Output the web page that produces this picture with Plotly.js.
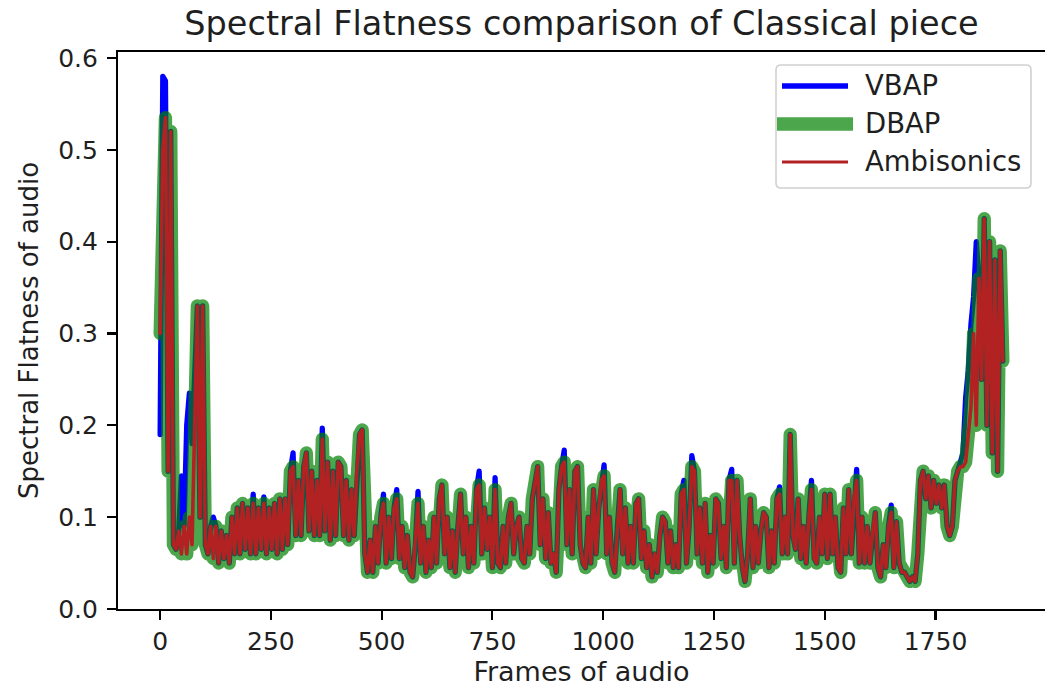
<!DOCTYPE html>
<html>
<head>
<meta charset="utf-8">
<script src="https://cdn.plot.ly/plotly-3.0.1.min.js"></script>
<style>
  html, body { margin: 0; padding: 0; background: #ffffff; }
  #chart { width: 1045px; height: 691px; }
  /* rounded joins and caps on the data lines */
  #chart .js-line { stroke-linejoin: round !important; stroke-linecap: round !important; }
</style>
</head>
<body>
<div id="chart"></div>
<script>
// Spectral flatness per analysis frame, one value every FRAME_STEP frames.
const FRAME_STEP = 6;

const vbap = [
  0.19, 0.58, 0.575, 0.15, 0.52, 0.07, 0.065, 0.085, 0.145, 0.09,
  0.20, 0.235, 0.18, 0.26, 0.33, 0.10, 0.33, 0.07, 0.06, 0.09,
  0.10, 0.09, 0.05, 0.085, 0.055, 0.08, 0.05, 0.10, 0.06, 0.11,
  0.06, 0.115, 0.065, 0.11, 0.06, 0.125, 0.06, 0.11, 0.065, 0.122,
  0.06, 0.11, 0.065, 0.115, 0.06, 0.12, 0.065, 0.12, 0.07, 0.15,
  0.17, 0.08, 0.14, 0.08, 0.155, 0.17, 0.085, 0.15, 0.08, 0.14,
  0.08, 0.197, 0.085, 0.16, 0.075, 0.15, 0.08, 0.16, 0.155, 0.08,
  0.14, 0.075, 0.13, 0.08, 0.15, 0.19, 0.195, 0.06, 0.04, 0.075,
  0.04, 0.09, 0.05, 0.10, 0.125, 0.05, 0.10, 0.055, 0.11, 0.13,
  0.055, 0.09, 0.045, 0.08, 0.04, 0.035, 0.07, 0.128, 0.05, 0.09,
  0.04, 0.075, 0.045, 0.10, 0.05, 0.12, 0.135, 0.06, 0.10, 0.045,
  0.085, 0.04, 0.09, 0.125, 0.06, 0.10, 0.045, 0.09, 0.05, 0.13,
  0.15, 0.06, 0.11, 0.065, 0.10, 0.045, 0.143, 0.05, 0.045, 0.09,
  0.05, 0.10, 0.115, 0.06, 0.09, 0.10, 0.055, 0.05, 0.09, 0.06,
  0.12, 0.14, 0.155, 0.07, 0.12, 0.055, 0.105, 0.05, 0.06, 0.04,
  0.13, 0.155, 0.173, 0.07, 0.13, 0.06, 0.15, 0.155, 0.07, 0.05,
  0.045, 0.10, 0.05, 0.13, 0.06, 0.11, 0.14, 0.157, 0.06, 0.10,
  0.05, 0.04, 0.09, 0.13, 0.06, 0.11, 0.05, 0.09, 0.05, 0.115,
  0.12, 0.055, 0.085, 0.045, 0.07, 0.035, 0.06, 0.04, 0.08, 0.10,
  0.095, 0.05, 0.085, 0.045, 0.07, 0.045, 0.125, 0.14, 0.05, 0.09,
  0.167, 0.15, 0.06, 0.11, 0.05, 0.115, 0.04, 0.08, 0.05, 0.12,
  0.115, 0.055, 0.09, 0.045, 0.14, 0.152, 0.05, 0.14, 0.08, 0.045,
  0.03, 0.06, 0.12, 0.045, 0.09, 0.05, 0.085, 0.105, 0.10, 0.045,
  0.085, 0.05, 0.12, 0.133, 0.06, 0.10, 0.06, 0.19, 0.08, 0.065,
  0.12, 0.055, 0.09, 0.05, 0.10, 0.14, 0.055, 0.05, 0.10, 0.06,
  0.125, 0.055, 0.125, 0.06, 0.10, 0.045, 0.04, 0.11, 0.06, 0.13,
  0.06, 0.12, 0.152, 0.05, 0.10, 0.05, 0.09, 0.05, 0.085, 0.105,
  0.045, 0.035, 0.07, 0.045, 0.09, 0.113, 0.045, 0.095, 0.05, 0.04,
  0.04, 0.035, 0.03, 0.035, 0.03, 0.06, 0.14, 0.15, 0.12, 0.145,
  0.11, 0.14, 0.115, 0.135, 0.11, 0.135, 0.09, 0.08, 0.09, 0.14,
  0.15, 0.155, 0.17, 0.23, 0.26, 0.31, 0.34, 0.40, 0.36, 0.25,
  0.425, 0.20, 0.40, 0.17, 0.38, 0.15, 0.39, 0.27
];

const dbap = [
  0.30, 0.50, 0.535, 0.15, 0.52, 0.07, 0.065, 0.085, 0.06, 0.09,
  0.06, 0.10, 0.07, 0.20, 0.33, 0.10, 0.33, 0.07, 0.06, 0.09,
  0.055, 0.09, 0.05, 0.085, 0.055, 0.08, 0.05, 0.10, 0.06, 0.11,
  0.06, 0.115, 0.065, 0.11, 0.06, 0.115, 0.06, 0.11, 0.065, 0.115,
  0.06, 0.11, 0.065, 0.115, 0.06, 0.12, 0.065, 0.12, 0.07, 0.15,
  0.155, 0.08, 0.14, 0.08, 0.155, 0.17, 0.085, 0.15, 0.08, 0.14,
  0.08, 0.185, 0.085, 0.16, 0.075, 0.15, 0.08, 0.16, 0.155, 0.08,
  0.14, 0.075, 0.13, 0.08, 0.15, 0.19, 0.195, 0.06, 0.04, 0.075,
  0.04, 0.09, 0.05, 0.10, 0.115, 0.05, 0.10, 0.055, 0.11, 0.12,
  0.055, 0.09, 0.045, 0.08, 0.04, 0.035, 0.07, 0.115, 0.05, 0.09,
  0.04, 0.075, 0.045, 0.10, 0.05, 0.12, 0.135, 0.06, 0.10, 0.045,
  0.085, 0.04, 0.09, 0.125, 0.06, 0.10, 0.045, 0.09, 0.05, 0.13,
  0.135, 0.06, 0.11, 0.065, 0.10, 0.045, 0.13, 0.05, 0.045, 0.09,
  0.05, 0.10, 0.115, 0.06, 0.09, 0.10, 0.055, 0.05, 0.09, 0.06,
  0.12, 0.14, 0.155, 0.07, 0.12, 0.055, 0.105, 0.05, 0.06, 0.04,
  0.13, 0.155, 0.16, 0.07, 0.13, 0.06, 0.15, 0.155, 0.07, 0.05,
  0.045, 0.10, 0.05, 0.13, 0.06, 0.11, 0.14, 0.145, 0.06, 0.10,
  0.05, 0.04, 0.09, 0.13, 0.06, 0.11, 0.05, 0.09, 0.05, 0.115,
  0.12, 0.055, 0.085, 0.045, 0.07, 0.035, 0.06, 0.04, 0.08, 0.10,
  0.095, 0.05, 0.085, 0.045, 0.07, 0.045, 0.125, 0.13, 0.05, 0.09,
  0.155, 0.15, 0.06, 0.11, 0.05, 0.115, 0.04, 0.08, 0.05, 0.12,
  0.115, 0.055, 0.09, 0.045, 0.14, 0.14, 0.05, 0.14, 0.08, 0.045,
  0.03, 0.06, 0.12, 0.045, 0.09, 0.05, 0.085, 0.105, 0.10, 0.045,
  0.085, 0.05, 0.12, 0.125, 0.06, 0.10, 0.06, 0.19, 0.08, 0.065,
  0.12, 0.055, 0.09, 0.05, 0.10, 0.13, 0.055, 0.05, 0.10, 0.06,
  0.125, 0.055, 0.125, 0.06, 0.10, 0.045, 0.04, 0.11, 0.06, 0.13,
  0.06, 0.12, 0.14, 0.05, 0.10, 0.05, 0.09, 0.05, 0.085, 0.105,
  0.045, 0.035, 0.07, 0.045, 0.09, 0.105, 0.045, 0.095, 0.05, 0.04,
  0.04, 0.035, 0.03, 0.035, 0.03, 0.06, 0.14, 0.15, 0.12, 0.145,
  0.11, 0.14, 0.115, 0.135, 0.11, 0.135, 0.09, 0.08, 0.09, 0.14,
  0.15, 0.155, 0.155, 0.16, 0.19, 0.22, 0.30, 0.20, 0.36, 0.25,
  0.425, 0.20, 0.40, 0.17, 0.38, 0.15, 0.39, 0.27
];

const ambisonics = [
  0.30, 0.50, 0.535, 0.15, 0.52, 0.07, 0.065, 0.085, 0.06, 0.09,
  0.06, 0.10, 0.07, 0.20, 0.33, 0.10, 0.33, 0.07, 0.06, 0.09,
  0.055, 0.09, 0.05, 0.085, 0.055, 0.08, 0.05, 0.10, 0.06, 0.11,
  0.06, 0.115, 0.065, 0.11, 0.06, 0.115, 0.06, 0.11, 0.065, 0.115,
  0.06, 0.11, 0.065, 0.115, 0.06, 0.12, 0.065, 0.12, 0.07, 0.15,
  0.155, 0.08, 0.14, 0.08, 0.155, 0.17, 0.085, 0.15, 0.08, 0.14,
  0.08, 0.185, 0.085, 0.16, 0.075, 0.15, 0.08, 0.16, 0.155, 0.08,
  0.14, 0.075, 0.13, 0.08, 0.15, 0.19, 0.195, 0.06, 0.04, 0.075,
  0.04, 0.09, 0.05, 0.10, 0.115, 0.05, 0.10, 0.055, 0.11, 0.12,
  0.055, 0.09, 0.045, 0.08, 0.04, 0.035, 0.07, 0.115, 0.05, 0.09,
  0.04, 0.075, 0.045, 0.10, 0.05, 0.12, 0.135, 0.06, 0.10, 0.045,
  0.085, 0.04, 0.09, 0.125, 0.06, 0.10, 0.045, 0.09, 0.05, 0.13,
  0.135, 0.06, 0.11, 0.065, 0.10, 0.045, 0.13, 0.05, 0.045, 0.09,
  0.05, 0.10, 0.115, 0.06, 0.09, 0.10, 0.055, 0.05, 0.09, 0.06,
  0.12, 0.14, 0.155, 0.07, 0.12, 0.055, 0.105, 0.05, 0.06, 0.04,
  0.13, 0.155, 0.16, 0.07, 0.13, 0.06, 0.15, 0.155, 0.07, 0.05,
  0.045, 0.10, 0.05, 0.13, 0.06, 0.11, 0.14, 0.145, 0.06, 0.10,
  0.05, 0.04, 0.09, 0.13, 0.06, 0.11, 0.05, 0.09, 0.05, 0.115,
  0.12, 0.055, 0.085, 0.045, 0.07, 0.035, 0.06, 0.04, 0.08, 0.10,
  0.095, 0.05, 0.085, 0.045, 0.07, 0.045, 0.125, 0.13, 0.05, 0.09,
  0.155, 0.15, 0.06, 0.11, 0.05, 0.115, 0.04, 0.08, 0.05, 0.12,
  0.115, 0.055, 0.09, 0.045, 0.14, 0.14, 0.05, 0.14, 0.08, 0.045,
  0.03, 0.06, 0.12, 0.045, 0.09, 0.05, 0.085, 0.105, 0.10, 0.045,
  0.085, 0.05, 0.12, 0.125, 0.06, 0.10, 0.06, 0.19, 0.08, 0.065,
  0.12, 0.055, 0.09, 0.05, 0.10, 0.13, 0.055, 0.05, 0.10, 0.06,
  0.125, 0.055, 0.125, 0.06, 0.10, 0.045, 0.04, 0.11, 0.06, 0.13,
  0.06, 0.12, 0.14, 0.05, 0.10, 0.05, 0.09, 0.05, 0.085, 0.105,
  0.045, 0.035, 0.07, 0.045, 0.09, 0.105, 0.045, 0.095, 0.05, 0.04,
  0.04, 0.035, 0.03, 0.035, 0.03, 0.06, 0.14, 0.15, 0.12, 0.145,
  0.11, 0.14, 0.115, 0.135, 0.11, 0.135, 0.09, 0.08, 0.09, 0.14,
  0.15, 0.155, 0.155, 0.16, 0.19, 0.22, 0.30, 0.20, 0.36, 0.25,
  0.425, 0.20, 0.40, 0.17, 0.38, 0.15, 0.39, 0.27
];

const xTicks = [0, 250, 500, 750, 1000, 1250, 1500, 1750];
const yTicks = [0.0, 0.1, 0.2, 0.3, 0.4, 0.5, 0.6];
const yTickLabels = ['0.0', '0.1', '0.2', '0.3', '0.4', '0.5', '0.6'];

const seriesNames = ['VBAP', 'DBAP', 'Ambisonics'];
const seriesColors = ['#0000ff', 'rgba(0,128,0,0.7)', '#b22222'];
const seriesWidths = [5.3, 13.3, 3.6];
const legendWidths = [5.3, 13.3, 3.0];

// frame index of each sample
const frames = dbap.map((_, i) => i * FRAME_STEP);

const FONT = 'DejaVu Sans, Liberation Sans, sans-serif';
const INK = '#1f1f1f';

const traces = [vbap, dbap, ambisonics].map((ys, k) => ({
  type: 'scatter',
  mode: 'lines',
  name: seriesNames[k],
  x: frames,
  y: ys,
  line: { color: seriesColors[k], width: seriesWidths[k], shape: 'linear' },
  showlegend: false,
  hoverinfo: 'skip'
}));

// Legend panel (upper right of the axes), positioned in paper units
const W = 1045, H = 691;
const M = { l: 118, r: 0, t: 52, b: 82 };
const PW = W - M.l - M.r, PH = H - M.t - M.b;
const px = v => (v - M.l) / PW;
const py = v => (H - M.b - v) / PH;

function roundedBox(x0, y0, x1, y1, r) {
  const rx = r / PW, ry = r / PH;
  const X0 = px(x0), X1 = px(x1), Y0 = py(y1), Y1 = py(y0);
  return `M${X0 + rx},${Y0} L${X1 - rx},${Y0} Q${X1},${Y0} ${X1},${Y0 + ry} ` +
         `L${X1},${Y1 - ry} Q${X1},${Y1} ${X1 - rx},${Y1} L${X0 + rx},${Y1} ` +
         `Q${X0},${Y1} ${X0},${Y1 - ry} L${X0},${Y0 + ry} Q${X0},${Y0} ${X0 + rx},${Y0} Z`;
}

const legendRows = [86, 124, 162];
const legendShapes = [{
  type: 'path', xref: 'paper', yref: 'paper', layer: 'above',
  path: roundedBox(776, 65, 1031, 188, 5),
  line: { color: '#d0d0d0', width: 1.6 },
  fillcolor: 'rgba(255,255,255,0.85)'
}];
seriesNames.forEach((n, k) => {
  const ext = k === 1 ? 5 : 0;
  legendShapes.push({
    type: 'line', xref: 'paper', yref: 'paper', layer: 'above',
    x0: px(782 - ext), x1: px(848 + ext),
    y0: py(legendRows[k]), y1: py(legendRows[k]),
    line: { color: seriesColors[k], width: legendWidths[k] }
  });
});
const legendLabels = seriesNames.map((n, k) => ({
  xref: 'paper', yref: 'paper',
  x: px(863), y: py(legendRows[k] - 1),
  xanchor: 'left', yanchor: 'middle',
  text: n, showarrow: false,
  font: { family: FONT, size: 27.5, color: INK }
}));

const axisCommon = {
  showgrid: false, zeroline: false,
  showline: true, linecolor: '#000000', linewidth: 2.1, mirror: true,
  ticks: 'outside', ticklen: 9, tickwidth: 2.1, tickcolor: '#000000',
  tickfont: { family: FONT, size: 25, color: INK }
};

const layout = {
  width: W, height: H,
  margin: { l: M.l, r: M.r, t: M.t, b: M.b, pad: 0 },
  paper_bgcolor: '#ffffff',
  plot_bgcolor: '#ffffff',
  showlegend: false,
  title: {
    text: 'Spectral Flatness comparison of Classical piece',
    font: { family: FONT, size: 33.5, color: INK },
    x: 0.5, xref: 'paper', xanchor: 'center',
    y: 1 - 23 / H, yref: 'container', yanchor: 'middle'
  },
  xaxis: Object.assign({}, axisCommon, {
    range: [-95.1, 1997.1],
    tickvals: xTicks,
    ticktext: xTicks.map(String),
    ticklabelstandoff: 0,
    title: { text: 'Frames of audio', font: { family: FONT, size: 27, color: INK }, standoff: 7 }
  }),
  yaxis: Object.assign({}, axisCommon, {
    range: [0, 0.6065],
    tickvals: yTicks,
    ticktext: yTickLabels,
    ticklabelstandoff: 4,
    title: { text: 'Spectral Flatness of audio', font: { family: FONT, size: 26, color: INK }, standoff: 12 }
  }),
  shapes: legendShapes,
  annotations: legendLabels
};

Plotly.newPlot('chart', traces, layout, { displayModeBar: false, staticPlot: true });
</script>
</body>
</html>
